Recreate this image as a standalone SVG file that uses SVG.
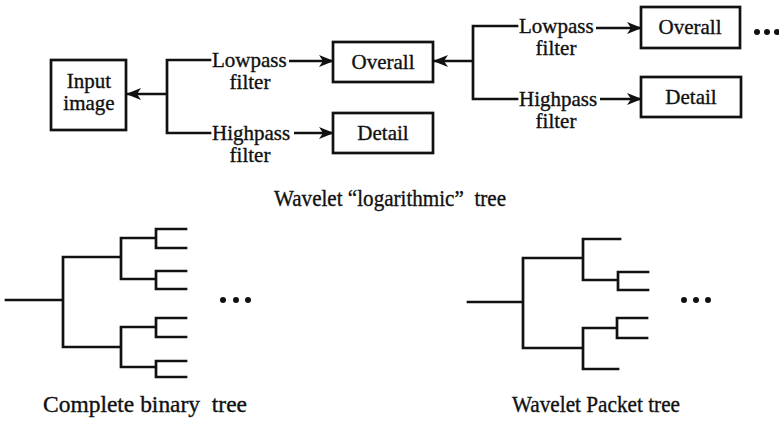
<svg xmlns="http://www.w3.org/2000/svg" width="779" height="422" viewBox="0 0 779 422">
<style>
text{font-family:"Liberation Serif","Times New Roman",serif;font-size:21px;fill:#111;stroke:#111;stroke-width:0.35;}
.c{text-anchor:middle;}
.box{fill:#fff;stroke:#111;stroke-width:2.7;}
.ln{fill:none;stroke:#111;stroke-width:2.7;stroke-linecap:square;}
.ar{fill:none;stroke:#111;stroke-width:2.7;marker-end:url(#ah);}
.cap{white-space:pre;font-size:22.5px;}
</style>
<defs>
<marker id="ah" viewBox="0 0 15 12" refX="14" refY="6" markerWidth="15" markerHeight="12" markerUnits="userSpaceOnUse" orient="auto">
<path d="M0,0 L15,6 L0,12 L4,6 z" fill="#111"/>
</marker>
</defs>
<rect width="779" height="422" fill="#fff"/>
<g id="connectors">
<path class="ln" d="M210,60 H167 V133 H210"/>
<line class="ar" x1="167" y1="94" x2="127" y2="94"/>
<line class="ar" x1="289" y1="61" x2="333" y2="61"/>
<line class="ar" x1="294" y1="133" x2="333" y2="133"/>
<path class="ln" d="M517,26 H473 V99 H517"/>
<line class="ar" x1="473" y1="61" x2="434" y2="61"/>
<line class="ar" x1="596" y1="28" x2="641" y2="28"/>
<line class="ar" x1="600" y1="99" x2="641" y2="99"/>
</g>
<g id="input">
<rect class="box" x="51" y="60" width="75" height="70"/>
<text class="c" x="89" y="88">Input</text>
<text class="c" x="89" y="110">image</text>
</g>
<g id="lowpass1"><text x="212" y="67">Lowpass</text><text class="c" x="250" y="89">filter</text></g>
<g id="highpass1"><text x="212" y="140">Highpass</text><text class="c" x="250" y="162">filter</text></g>
<g id="overall1">
<rect class="box" x="333" y="42" width="100" height="40"/>
<text class="c" x="383" y="69">Overall</text>
</g>
<g id="detail1">
<rect class="box" x="333" y="113" width="100" height="40"/>
<text class="c" x="383" y="140">Detail</text>
</g>
<g id="lowpass2"><text x="519" y="33">Lowpass</text><text class="c" x="556" y="55">filter</text></g>
<g id="highpass2"><text x="519" y="106">Highpass</text><text class="c" x="556" y="128">filter</text></g>
<g id="overall2">
<rect class="box" x="641" y="7" width="99" height="41"/>
<text class="c" x="690" y="34">Overall</text>
</g>
<g id="detail2">
<rect class="box" x="641" y="77" width="100" height="40"/>
<text class="c" x="691" y="104">Detail</text>
</g>
<g id="dots-top" fill="#111">
<circle cx="757" cy="32" r="3"/><circle cx="767" cy="32" r="3"/><circle cx="777" cy="32" r="3"/>
</g>
<text class="cap" x="274" y="206" textLength="232" lengthAdjust="spacingAndGlyphs">Wavelet “logarithmic”  tree</text>
<g id="binary-tree">
<path class="ln" d="M6,300 H63 M63,257 V347 M63,257 H121 M63,347 H121
M121,238 V279 M121,238 H156 M121,279 H156 M156,229 V248 M156,229 H186 M156,248 H186 M156,271 V289 M156,271 H186 M156,289 H186
M121,327 V367 M121,327 H156 M121,367 H156 M156,318 V337 M156,318 H186 M156,337 H186 M156,361 V377 M156,361 H186 M156,377 H186"/>
<g fill="#111"><circle cx="223" cy="300" r="3"/><circle cx="236" cy="300" r="3"/><circle cx="248" cy="300" r="3"/></g>
</g>
<text class="cap" x="43" y="412" textLength="204" lengthAdjust="spacingAndGlyphs">Complete binary  tree</text>
<g id="packet-tree">
<path class="ln" d="M468,302 H523 M523,258 V348 M523,258 H583 M523,348 H583
M583,239 V280 M583,239 H620 M583,280 H618 M618,272 V290 M618,272 H648 M618,290 H648
M583,328 V369 M583,328 H617 M583,369 H618 M617,318 V338 M617,318 H647 M617,338 H647"/>
<g fill="#111"><circle cx="684" cy="300" r="3"/><circle cx="696" cy="300" r="3"/><circle cx="708" cy="300" r="3"/></g>
</g>
<text class="cap" x="512" y="412" textLength="168" lengthAdjust="spacingAndGlyphs">Wavelet Packet tree</text>
</svg>
